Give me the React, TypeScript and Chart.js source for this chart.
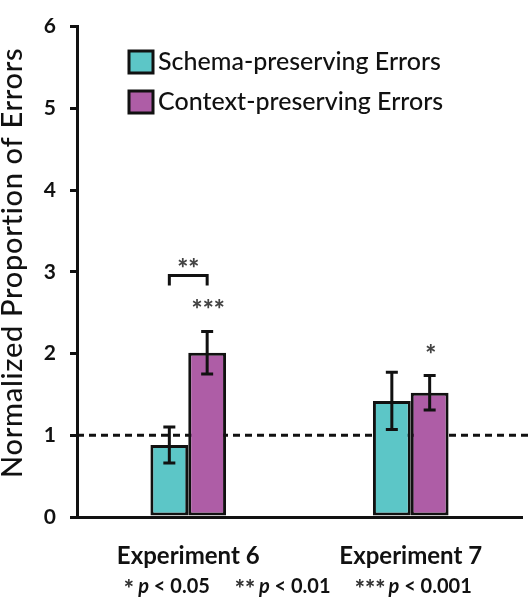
import React, { useEffect, useRef } from "react";
import { Chart, registerables } from "chart.js";

Chart.register(...registerables);

const categories = ["Experiment 6", "Experiment 7"];
const seriesLabels = ["Schema-preserving Errors", "Context-preserving Errors"];
const schemaValues = [0.88, 1.42];
const schemaErrors = [0.22, 0.35];
const contextValues = [2.01, 1.52];
const contextErrors = [0.26, 0.21];
const contextStars = ["***", "*"];
const pairStars = ["**", ""];
const yTicks = [0, 1, 2, 3, 4, 5, 6];
const referenceLevel = 1;
const footnoteParts = [
  { stars: "*", text: " < 0.05" },
  { stars: "**", text: " < 0.01" },
  { stars: "***", text: " < 0.001" },
];

const CYAN = "#5CC6C7";
const MAGENTA = "#AE5DA6";
const FONT = "Lato, 'Open Sans', sans-serif";

const errorsByDataset = [schemaErrors, contextErrors];

function drawStars(ctx: any, text: string, cx: number, cy: number, size: number, color: string) {
  ctx.save();
  ctx.font = `900 ${size}px ${FONT}`;
  ctx.fillStyle = color;
  ctx.textAlign = "center";
  ctx.textBaseline = "alphabetic";
  const m = ctx.measureText(text);
  const asc = m.actualBoundingBoxAscent;
  const desc = m.actualBoundingBoxDescent;
  ctx.fillText(text, cx, cy + (asc - desc) / 2);
  ctx.restore();
}

const overlayPlugin = {
  id: "overlay",
  beforeDatasetsDraw(chart: any) {
    const { ctx, chartArea, scales } = chart;
    const y = scales.y.getPixelForValue(referenceLevel);
    ctx.save();
    ctx.strokeStyle = "#111";
    ctx.lineWidth = 3;
    ctx.setLineDash([7, 5]);
    ctx.beginPath();
    ctx.moveTo(chartArea.left, y);
    ctx.lineTo(chart.width, y);
    ctx.stroke();
    ctx.restore();
  },
  afterDatasetsDraw(chart: any) {
    const { ctx, scales } = chart;
    ctx.save();
    ctx.strokeStyle = "#111";
    ctx.lineWidth = 3;
    const tops: number[][] = [[], []];
    chart.data.datasets.forEach((ds: any, di: number) => {
      const meta = chart.getDatasetMeta(di);
      meta.data.forEach((bar: any, i: number) => {
        const v = ds.data[i];
        const e = errorsByDataset[di][i];
        const yHi = scales.y.getPixelForValue(v + e);
        const yLo = scales.y.getPixelForValue(v - e);
        tops[di][i] = yHi;
        const x = bar.x;
        ctx.beginPath();
        ctx.moveTo(x, yHi);
        ctx.lineTo(x, yLo);
        ctx.moveTo(x - 6, yHi);
        ctx.lineTo(x + 6, yHi);
        ctx.moveTo(x - 6, yLo);
        ctx.lineTo(x + 6, yLo);
        ctx.stroke();
      });
    });
    const m0 = chart.getDatasetMeta(0);
    const m1 = chart.getDatasetMeta(1);
    categories.forEach((_, i) => {
      const x1 = m1.data[i].x;
      const top = tops[1][i];
      if (contextStars[i]) {
        drawStars(ctx, contextStars[i], x1 + 1, top - 27, 26, "#444");
      }
      if (pairStars[i]) {
        const x0 = m0.data[i].x;
        const by = top - 56;
        ctx.beginPath();
        ctx.moveTo(x0, by + 10);
        ctx.lineTo(x0, by);
        ctx.lineTo(x1, by);
        ctx.lineTo(x1, by + 10);
        ctx.stroke();
        drawStars(ctx, pairStars[i], (x0 + x1) / 2, by - 12, 26, "#444");
      }
    });
    ctx.restore();
  },
  afterDraw(chart: any) {
    const { ctx, chartArea } = chart;
    ctx.save();
    // y title
    ctx.fillStyle = "#111";
    ctx.font = `500 29px ${FONT}`;
    try { (ctx as any).letterSpacing = "0.7px"; } catch (e) {}
    ctx.textAlign = "center";
    ctx.textBaseline = "middle";
    ctx.translate(13, (chartArea.top + chartArea.bottom) / 2 - 9);
    ctx.rotate(-Math.PI / 2);
    ctx.fillText("Normalized Proportion of Errors", 0, 0);
    ctx.restore();

    // legend
    ctx.save();
    chart.data.datasets.forEach((ds: any, i: number) => {
      const bx = 129;
      const by = 51 + i * 40;
      ctx.fillStyle = ds.backgroundColor;
      ctx.fillRect(bx, by, 24, 22);
      ctx.strokeStyle = "#111";
      ctx.lineWidth = 3;
      ctx.strokeRect(bx, by, 24, 22);
      ctx.fillStyle = "#111";
      ctx.font = `500 25px ${FONT}`;
      ctx.textAlign = "left";
      ctx.textBaseline = "middle";
      ctx.fillText(ds.label, 158, by + 11);
    });
    ctx.restore();

    // footnote
    ctx.save();
    ctx.fillStyle = "#111";
    ctx.textBaseline = "middle";
    const boldF = `bold 20px ${FONT}`;
    const italF = `italic bold 20px ${FONT}`;
    const gapW = 26;
    let total = 0;
    const pieces: { w1: number; w2: number; sw: number }[] = [];
    footnoteParts.forEach((p, i) => {
      ctx.font = italF;
      const w1 = ctx.measureText("p").width;
      ctx.font = boldF;
      const w2 = ctx.measureText(p.text).width;
      const sw = p.stars.length * 9 + 5;
      pieces.push({ w1, w2, sw });
      total += sw + w1 + w2 + (i < footnoteParts.length - 1 ? gapW : 0);
    });
    let x = 298 - total / 2;
    const fy = 587;
    footnoteParts.forEach((p, i) => {
      const pc = pieces[i];
      drawStars(ctx, p.stars, x + (pc.sw - 5) / 2, fy - 4, 24, "#333");
      x += pc.sw;
      ctx.textAlign = "left";
      ctx.font = italF;
      ctx.fillStyle = "#111";
      ctx.fillText("p", x, fy);
      x += pc.w1;
      ctx.font = boldF;
      ctx.fillText(p.text, x, fy);
      x += pc.w2 + gapW;
    });
    ctx.restore();
  },
};

export default function App() {
  const canvasRef = useRef<HTMLCanvasElement | null>(null);

  useEffect(() => {
    document.body.style.margin = "0";
    const canvas = canvasRef.current;
    if (!canvas) return;
    const chart = new Chart(canvas, {
      type: "bar",
      data: {
        labels: categories,
        datasets: [
          {
            label: seriesLabels[0],
            data: schemaValues,
            backgroundColor: CYAN,
            borderColor: "#111",
            borderWidth: 3,
            borderSkipped: false,
          },
          {
            label: seriesLabels[1],
            data: contextValues,
            backgroundColor: MAGENTA,
            borderColor: "#111",
            borderWidth: 3,
            borderSkipped: false,
          },
        ],
      },
      options: {
        animation: false,
        responsive: false,
        maintainAspectRatio: false,
        layout: { padding: { top: 12, right: 8, left: 0, bottom: 0 } },
        datasets: {
          bar: { categoryPercentage: 0.34, barPercentage: 1.0 },
        },
        plugins: {
          legend: { display: false },
          tooltip: { enabled: false },
          title: { display: false },
        },
        scales: {
          x: {
            grid: { display: false },
            border: { color: "#111", width: 3 },
            ticks: {
              color: "#111",
              font: { family: FONT, size: 24, weight: "bold" },
              padding: 17,
            },
            afterFit(scale: any) {
              scale.height = 83;
            },
          },
          y: {
            min: 0,
            max: 6,
            afterBuildTicks(scale: any) {
              scale.ticks = yTicks.map((v) => ({ value: v }));
            },
            grid: {
              drawOnChartArea: false,
              drawTicks: true,
              tickLength: 7,
              color: "#111",
              lineWidth: 3,
            },
            border: { color: "#111", width: 3 },
            ticks: {
              color: "#111",
              font: { family: FONT, size: 21, weight: "bold" },
              padding: 14,
            },
            afterFit(scale: any) {
              scale.width = 77;
            },
          },
        },
      },
      plugins: [overlayPlugin],
    } as any);
    return () => chart.destroy();
  }, []);

  return (
    <div style={{ position: "absolute", left: 0, top: 0, width: 530, height: 600 }}>
      <canvas ref={canvasRef} width={530} height={600} style={{ width: 530, height: 600 }} />
    </div>
  );
}
